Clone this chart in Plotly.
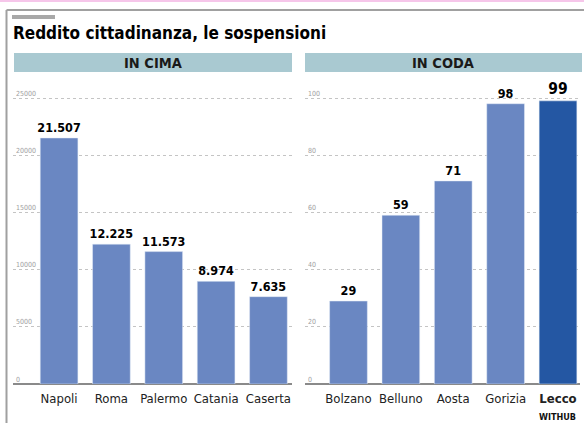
import plotly.graph_objects as go

top_cities = ["Napoli", "Roma", "Palermo", "Catania", "Caserta"]
top_values = [21507, 12225, 11573, 8974, 7635]
bottom_cities = ["Bolzano", "Belluno", "Aosta", "Gorizia", "Lecco"]
bottom_values = [29, 59, 71, 98, 99]
left_ticks = [0, 5000, 10000, 15000, 20000, 25000]
right_ticks = [0, 20, 40, 60, 80, 100]

FONT = "Liberation Sans Narrow, DejaVu Sans Condensed, Roboto, sans-serif"
W, H = 584, 423
BAR = "#6a87c2"
DARK = "#2457a3"

def px(x):
    return x / W

def py(y):
    return 1 - y / H

# y pixel of zero line and of top of plotting area; scale: 25000 (=100) spans 286 px
Y0, YTOP = 384, 84
EXT = (Y0 - YTOP) / 286.0

fig = go.Figure()

fig.add_trace(go.Bar(
    x=top_cities, y=top_values, marker_color=BAR, width=0.72,
    text=[f"{v:,}".replace(",", ".") for v in top_values], textposition="outside",
    constraintext="none",
    textfont=dict(family=FONT, size=12.5, color="black", weight="bold"),
    cliponaxis=False, xaxis="x", yaxis="y", showlegend=False))

bottom_colors = [BAR] * 4 + [DARK]
bottom_sizes = [12.5] * 4 + [15.5]
fig.add_trace(go.Bar(
    x=bottom_cities, y=bottom_values, marker_color=bottom_colors, width=0.72,
    text=[str(v) for v in bottom_values], textposition="outside",
    constraintext="none",
    textfont=dict(family=FONT, size=bottom_sizes, color="black", weight="bold"),
    cliponaxis=False, xaxis="x2", yaxis="y2", showlegend=False))

ydom = [py(Y0), py(YTOP)]
axis_common = dict(showgrid=False, ticks="", tickfont=dict(family=FONT, size=13, color="#222"),
                   showline=False, zeroline=False, fixedrange=True, ticklabelstandoff=5)
yax_common = dict(showgrid=True, griddash="dot", gridcolor="#c4c4c4", gridwidth=1,
                  ticklabelposition="inside top", tickfont=dict(family=FONT, size=7, color="#a0a0a0"),
                  zeroline=True, zerolinecolor="#8a8a8a", zerolinewidth=1.5,
                  showline=False, ticks="", tickformat="d", domain=ydom, fixedrange=True)

bottom_ticktext = bottom_cities[:4] + ["<b>Lecco</b>"]

fig.update_layout(
    width=W, height=H, margin=dict(l=0, r=0, t=0, b=0),
    paper_bgcolor="white", plot_bgcolor="white",
    xaxis=dict(domain=[px(13), px(292)], range=[-0.88, 4.45], anchor="y", **axis_common),
    xaxis2=dict(domain=[px(305), px(580)], range=[-0.83, 4.42], anchor="y2",
                tickmode="array", tickvals=bottom_cities, ticktext=bottom_ticktext, **axis_common),
    yaxis=dict(range=[0, 25000 * EXT], tickvals=left_ticks, anchor="x", **yax_common),
    yaxis2=dict(range=[0, 100 * EXT], tickvals=right_ticks, anchor="x2", **yax_common),
    font=dict(family=FONT),
)

shapes = [
    dict(type="rect", xref="paper", yref="paper", x0=0, x1=1, y0=py(0), y1=py(2),
         fillcolor="#f6c6ea", line_width=0, layer="below"),
    dict(type="line", xref="paper", yref="paper", x0=px(6.5), x1=1, y0=py(10), y1=py(10),
         line=dict(color="#a0a0a0", width=2)),
    dict(type="line", xref="paper", yref="paper", x0=px(6.5), x1=px(6.5), y0=py(10), y1=0,
         line=dict(color="#a0a0a0", width=2)),
    dict(type="rect", xref="paper", yref="paper", x0=px(12), x1=px(55), y0=py(15), y1=py(19),
         fillcolor="#a8a8a8", line_width=0),
    dict(type="rect", xref="paper", yref="paper", x0=px(14), x1=px(292), y0=py(53), y1=py(72),
         fillcolor="#a9c9d1", line_width=0),
    dict(type="rect", xref="paper", yref="paper", x0=px(305), x1=px(582), y0=py(53), y1=py(72),
         fillcolor="#a9c9d1", line_width=0),
]

annotations = [
    dict(text="<b>Reddito cittadinanza, le sospensioni</b>", x=px(11), y=py(33),
         xanchor="left", yanchor="middle", showarrow=False,
         font=dict(family=FONT, size=17, color="black")),
    dict(text="<b>IN CIMA</b>", x=px(153), y=py(62.5), xanchor="center", yanchor="middle",
         showarrow=False, font=dict(family=FONT, size=14.5, color="#1a1a1a")),
    dict(text="<b>IN CODA</b>", x=px(443), y=py(62.5), xanchor="center", yanchor="middle",
         showarrow=False, font=dict(family=FONT, size=14.5, color="#1a1a1a")),
    dict(text="<b>WITHUB</b>", x=px(578), y=py(417), xanchor="right", yanchor="middle",
         showarrow=False, font=dict(family=FONT, size=9, color="#111")),
]

for a in annotations:
    a.update(xref="paper", yref="paper")

fig.update_layout(shapes=shapes, annotations=annotations)

fig.write_html("out.html", config={"displayModeBar": False},
               post_script="document.body.style.margin='0';document.body.style.overflow='hidden';")
